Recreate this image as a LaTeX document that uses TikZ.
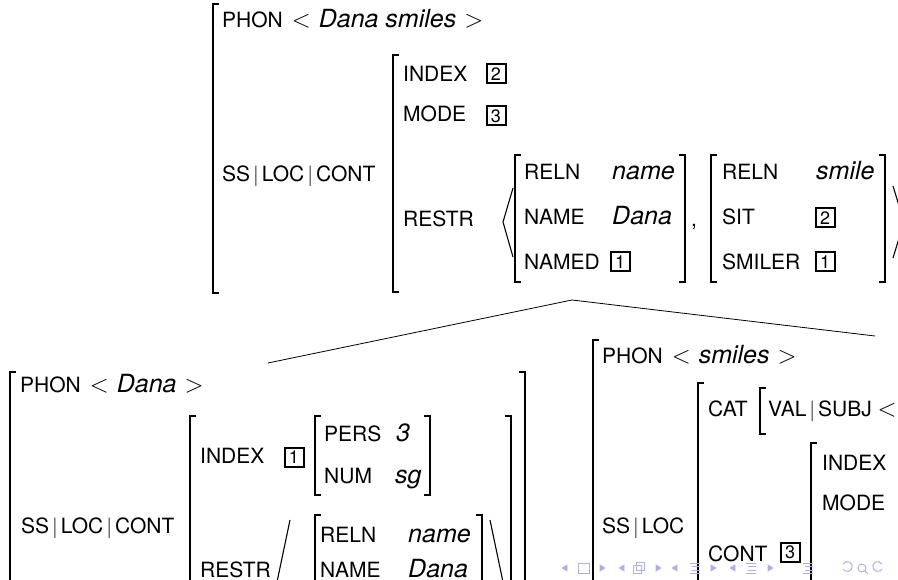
\documentclass[tikz,border=0pt]{standalone}
\usepackage{fontspec}
\setmainfont{TeX Gyre Heros}
\definecolor{navc}{RGB}{175,175,225}
\tikzset{
  brk/.style={line width=1.1pt},
  avm/.style={inner sep=0pt, anchor=base west, font=\fontsize{21}{24}\selectfont},
  val/.style={avm, font=\fontsize{25}{28}\selectfont\itshape},
  tag/.style={draw, line width=2pt, inner sep=0pt, minimum width=19pt, minimum height=19pt, font=\fontsize{18}{18}\selectfont},
  nav/.style={draw=navc, fill=navc, line width=0.6pt},
  navline/.style={draw=navc, line width=1pt},
  branch/.style={line width=0.8pt}
}
% left and right brackets of a matrix: x, top, bottom
\newcommand{\avmlb}[3]{\draw[brk] (#1,#2) ++(6,0) -- ++(-6,0) -- (#1,#3) -- ++(6,0);}
\newcommand{\avmrb}[3]{\draw[brk] (#1,#2) ++(-6,0) -- ++(6,0) -- (#1,#3) -- ++(-6,0);}
\newcommand{\pth}{\hspace{3pt}$|$\hspace{3pt}}
\newcommand{\phval}[1]{{\fontsize{25}{28}\selectfont\itshape #1}}
\newcommand{\lang}{{\fontsize{25}{28}\selectfont$<$}}
\newcommand{\rang}{{\fontsize{25}{28}\selectfont$>$}}
\newcommand{\phon}[1]{PHON\hspace{9pt}\lang\hspace{8pt}\phval{#1}\hspace{8pt}\rang}
\begin{document}
\begin{tikzpicture}[x=1pt,y=-1pt]
    \useasboundingbox (0,0) rectangle (898,580);
    \clip (0,0) rectangle (898,580);

    % mother: Dana smiles
    \avmlb{213}{4}{293}
    \node[avm] (phon0) at (222,28) {\phon{Dana smiles}};
    \node[avm] (ss0) at (222,182) {SS\pth LOC\pth CONT};
    \avmlb{393}{55}{292}
    \node[avm] (index0) at (403,82) {INDEX};
    \node[tag] (tag0a) at (496,74) {2};
    \node[avm] (mode0) at (403,122) {MODE};
    \node[tag] (tag0b) at (496,116) {3};
    \node[avm] (restr0) at (403,227) {RESTR};
    \draw[brk] (513,188) -- (503,222) -- (513,257);

    \avmlb{515}{155}{282}
    \node[avm] (reln0) at (524,180) {RELN};
    \node[val] (rel0) at (612,180) {name};
    \node[avm] (name0) at (524,225) {NAME};
    \node[val] (nm0) at (612,225) {Dana};
    \node[avm] (named0) at (524,270) {NAMED};
    \node[tag] (tag0c) at (620,262) {1};
    \avmrb{685}{155}{282}
    \node[avm] (comma0) at (691,227) {,};

    \avmlb{711}{155}{282}
    \node[avm] (reln1) at (722,180) {RELN};
    \node[val] (rel1) at (816,180) {smile};
    \node[avm] (sit1) at (722,225) {SIT};
    \node[tag] (tag1a) at (825,218) {2};
    \node[avm] (smiler1) at (722,270) {SMILER};
    \node[tag] (tag1b) at (825,262) {1};
    \avmrb{885}{155}{282}
    \draw[brk] (893,186) -- (904,222) -- (893,258);

    % branches
    \coordinate (foot) at (572,300);
    \coordinate (danatop) at (268,363);
    \coordinate (smilestop) at (875,336);
    \draw[branch] (foot) -- (danatop);
    \draw[branch] (foot) -- (smilestop);

    % daughter: Dana
    \avmlb{10}{372}{600}
    \avmrb{525}{372}{600}
    \node[avm] (phon2) at (20,392) {\phon{Dana}};
    \node[avm] (ss2) at (21,533) {SS\pth LOC\pth CONT};
    \avmlb{190}{416}{600}
    \avmrb{511}{416}{600}
    \node[avm] (index2) at (200,463) {INDEX};
    \node[tag] (tag2a) at (294,457) {1};
    \avmlb{315}{416}{495}
    \node[avm] (pers2) at (324,442) {PERS};
    \node[val] (p2) at (396,442) {3};
    \node[avm] (num2) at (324,483) {NUM};
    \node[val] (n2) at (395,483) {sg};
    \avmrb{430}{416}{495}
    \node[avm] (restr2) at (200,577) {RESTR};
    \draw[brk] (290,520) -- (277,582) -- (290,644);
    \avmlb{315}{515}{640}
    \node[avm] (reln2) at (320,542) {RELN};
    \node[val] (rel2) at (408,542) {name};
    \node[avm] (name2) at (320,577) {NAME};
    \node[val] (nm2) at (408,577) {Dana};
    \avmrb{482}{515}{640}
    \draw[brk] (490,520) -- (503,582) -- (490,644);

    % daughter: smiles
    \avmlb{593}{340}{600}
    \node[avm] (phon3) at (602,363) {\phon{smiles}};
    \node[avm] (ss3) at (602,533) {SS\pth LOC};
    \avmlb{698}{383}{600}
    \node[avm] (cat3) at (708,417) {CAT};
    \avmlb{760}{388}{434}
    \node[avm] (subj3) at (768,417) {VAL\pth SUBJ \lang};
    \node[avm] (cont3) at (708,561) {CONT};
    \node[tag] (tag3) at (790,552) {3};
    \avmlb{811}{443}{600}
    \node[avm] (index3) at (822,470) {INDEX};
    \node[avm] (mode3) at (822,510) {MODE};

    % navigation symbols
    \draw[nav] (567,565) -- (562,568) -- (567,571) -- cycle;
    \draw[navline] (578,563) rectangle (589,573);
    \draw[nav] (600,565) -- (605,568) -- (600,571) -- cycle;
    \draw[nav] (624,565) -- (619,568) -- (624,571) -- cycle;
    \draw[navline] (633,565) rectangle (641,573);
    \draw[navline] (636,562) rectangle (644,570);
    \draw[nav] (656,565) -- (661,568) -- (656,571) -- cycle;
    \draw[nav] (677,565) -- (672,568) -- (677,571) -- cycle;
    \draw[navline] (690,563) -- (700,563) (692,566.5) -- (700,566.5) (692,570) -- (700,570) (690,573.5) -- (700,573.5);
    \draw[nav] (711,565) -- (716,568) -- (711,571) -- cycle;
    \draw[nav] (735,565) -- (730,568) -- (735,571) -- cycle;
    \draw[navline] (746,563) -- (756,563) (748,566.5) -- (756,566.5) (748,570) -- (756,570) (746,573.5) -- (756,573.5);
    \draw[nav] (768,565) -- (773,568) -- (768,571) -- cycle;
    \draw[navline] (803,563) -- (813,563) (805,566.5) -- (813,566.5) (805,570) -- (813,570) (803,573.5) -- (813,573.5);
    \draw[navline] (843,564) arc[start angle=150, end angle=-150, radius=5pt];
    \draw[navline] (862,568) circle[radius=4pt] (865,571) -- (868,574);
    \draw[navline] (882,564) arc[start angle=30, end angle=330, radius=5pt];

\end{tikzpicture}
\end{document}
